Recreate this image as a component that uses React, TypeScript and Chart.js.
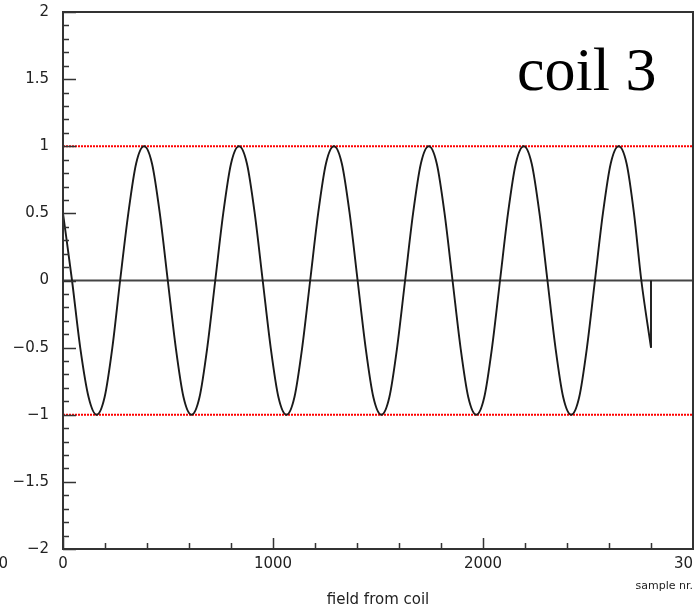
import React, { useEffect, useRef } from 'react';
import { Chart, registerables } from 'chart.js';

Chart.register(...registerables);

// Sample number (x) and field value (y)
const sampleNr = [
  0, 43, 82, 122, 160, 198, 235, 272, 311, 348, 386, 424, 461, 499, 537, 574,
  612, 650, 687, 725, 763, 800, 838, 876, 913, 951, 989, 1026, 1064, 1102, 1139,
  1177, 1215, 1252, 1290, 1328, 1365, 1403, 1441, 1478, 1516, 1554, 1591, 1629,
  1667, 1704, 1742, 1780, 1817, 1855, 1893, 1930, 1968, 2006, 2043, 2081, 2119,
  2156, 2194, 2232, 2269, 2307, 2345, 2382, 2420, 2458, 2495, 2533, 2571, 2608,
  2646, 2684, 2719, 2754, 2800,
];
const fieldValue = [
  0.5, 0, -0.5, -0.87, -1, -0.87, -0.5, 0, 0.5, 0.87, 1, 0.87, 0.5, 0, -0.5, -0.87,
  -1, -0.87, -0.5, 0, 0.5, 0.87, 1, 0.87, 0.5, 0, -0.5, -0.87, -1, -0.87, -0.5,
  0, 0.5, 0.87, 1, 0.87, 0.5, 0, -0.5, -0.87, -1, -0.87, -0.5, 0,
  0.5, 0.87, 1, 0.87, 0.5, 0, -0.5, -0.87, -1, -0.87, -0.5, 0, 0.5,
  0.87, 1, 0.87, 0.5, 0, -0.5, -0.87, -1, -0.87, -0.5, 0, 0.5, 0.87,
  1, 0.87, 0.5, 0, -0.5,
];
// final drop back to zero
const spikeX = [2800, 2800];
const spikeY = [-0.5, 0];
// reference levels
const upperLimit = 1;
const lowerLimit = -1;
const baseline = 0;
const xRange = [0, 3000];
const yRange = [-2, 2];
const xTickValues = [0, 1000, 2000, 3000];
const yTickValues = [-2, -1.5, -1, -0.5, 0, 0.5, 1, 1.5, 2];

const TICK_FONT = { family: 'DejaVu Sans', size: 15 };

const rootFrame = {
  id: 'rootFrame',
  afterDraw(chart: any) {
    const { ctx, chartArea: a, scales } = chart;
    const x = scales.x;
    const y = scales.y;
    ctx.save();
    ctx.strokeStyle = '#333';
    ctx.lineWidth = 1.5;
    ctx.beginPath();
    for (let i = 0; i <= 40; i++) {
      const v = yRange[0] + i * 0.1;
      const len = i % 5 === 0 ? 13 : 6;
      const py = Math.round(y.getPixelForValue(v)) + 0.5;
      ctx.moveTo(a.left, py);
      ctx.lineTo(a.left + len, py);
    }
    for (let v = xRange[0]; v <= xRange[1]; v += 200) {
      const len = v % 1000 === 0 ? 11 : 6;
      const px = Math.round(x.getPixelForValue(v)) + 0.5;
      ctx.moveTo(px, a.bottom);
      ctx.lineTo(px, a.bottom - len);
    }
    ctx.stroke();
    ctx.lineWidth = 2;
    ctx.strokeRect(a.left, a.top, a.right - a.left, a.bottom - a.top);

    ctx.fillStyle = '#000';
    ctx.textBaseline = 'alphabetic';
    ctx.textAlign = 'left';
    ctx.font = '62px "Liberation Serif"';
    ctx.fillText('coil 3', 517, 90);

    ctx.fillStyle = '#222';
    ctx.textAlign = 'right';
    ctx.font = '11px "DejaVu Sans"';
    ctx.fillText('sample nr.', 693, 589);

    ctx.font = '15px "DejaVu Sans"';
    ctx.fillText('0', 8, 568);
    ctx.restore();
  },
};

export default function App() {
  const ref = useRef<HTMLCanvasElement>(null);
  useEffect(() => {
    const curve = sampleNr.map((v, i) => ({ x: v, y: fieldValue[i] }));
    const spike = spikeX.map((v, i) => ({ x: v, y: spikeY[i] }));
    const level = (v: number) => xRange.map((xv) => ({ x: xv, y: v }));
    const chart = new Chart(ref.current as HTMLCanvasElement, {
      type: 'line',
      data: {
        datasets: [
          {
            data: curve,
            borderColor: '#1a1a1a',
            borderWidth: 1.9,
            pointRadius: 0,
            tension: 0.4,
            cubicInterpolationMode: 'monotone',
            fill: false,
          },
          {
            data: spike,
            borderColor: '#1a1a1a',
            borderWidth: 1.9,
            pointRadius: 0,
            tension: 0,
            fill: false,
          },
          {
            data: level(upperLimit),
            borderColor: '#ff0000',
            borderWidth: 2,
            borderDash: [2, 1],
            pointRadius: 0,
            fill: false,
          },
          {
            data: level(lowerLimit),
            borderColor: '#ff0000',
            borderWidth: 2,
            borderDash: [2, 1],
            pointRadius: 0,
            fill: false,
          },
          {
            data: level(baseline),
            borderColor: '#444',
            borderWidth: 2,
            pointRadius: 0,
            fill: false,
          },
        ],
      },
      options: {
        animation: false,
        responsive: false,
        devicePixelRatio: 1,
        layout: { padding: { top: 12, right: 1, left: 0, bottom: 0 } },
        plugins: {
          legend: { display: false },
          tooltip: { enabled: false },
        },
        scales: {
          x: {
            type: 'linear',
            min: xRange[0],
            max: xRange[1],
            grid: { display: false, drawTicks: false },
            border: { display: false },
            afterBuildTicks: (s: any) => {
              s.ticks = xTickValues.map((v) => ({ value: v }));
            },
            afterFit: (s: any) => {
              s.height = 61;
              s.paddingLeft = 0;
              s.paddingRight = 0;
            },
            ticks: {
              autoSkip: false,
              maxRotation: 0,
              padding: 6,
              color: '#222',
              font: TICK_FONT,
              callback: (v: any) => String(v),
            },
            title: {
              display: true,
              text: 'field from coil',
              color: '#222',
              font: TICK_FONT,
              padding: { top: 0, bottom: 1 },
            },
          },
          y: {
            type: 'linear',
            min: yRange[0],
            max: yRange[1],
            grid: { display: false, drawTicks: false },
            border: { display: false },
            afterBuildTicks: (s: any) => {
              s.ticks = yTickValues.map((v) => ({ value: v }));
            },
            afterFit: (s: any) => {
              s.width = 63;
              s.paddingTop = 0;
              s.paddingBottom = 0;
            },
            ticks: {
              autoSkip: false,
              padding: 14,
              color: '#222',
              font: TICK_FONT,
              callback: (v: any) => String(v).replace('-', '\u2212'),
            },
          },
        },
      },
      plugins: [rootFrame],
    } as any);
    return () => chart.destroy();
  }, []);
  return (
    <div style={{ position: 'absolute', left: 0, top: 0, width: 694, height: 610, background: '#fff' }}>
      <canvas ref={ref} width={694} height={610} style={{ display: 'block' }} />
    </div>
  );
}
